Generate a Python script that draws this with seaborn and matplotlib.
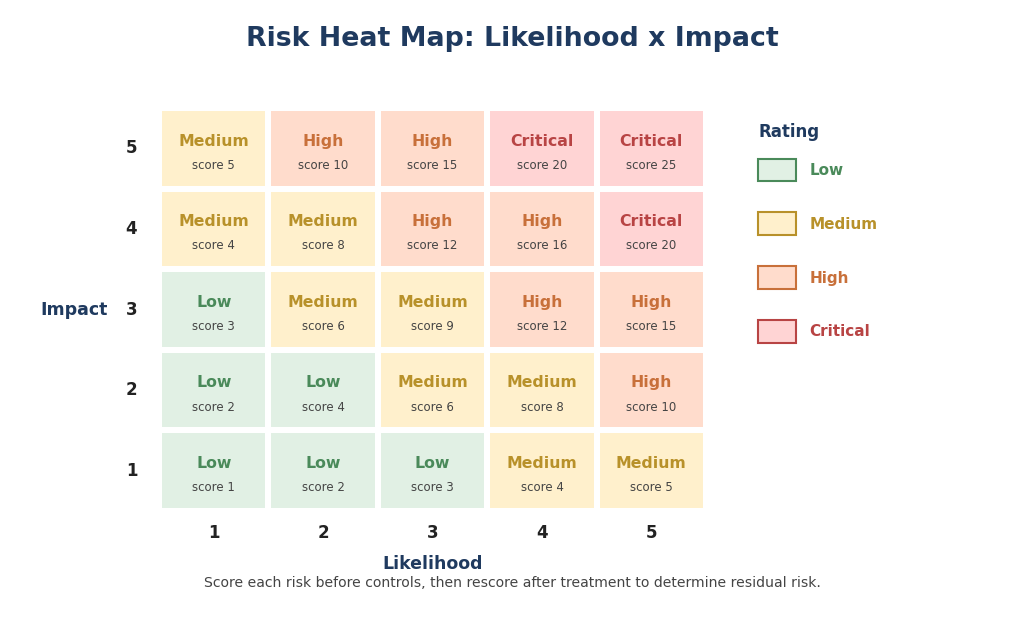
import matplotlib
matplotlib.use("Agg")
import matplotlib.pyplot as plt
from matplotlib.colors import ListedColormap
from matplotlib.patches import Patch
import pandas as pd
import seaborn as sns

# Data
likelihood = [1, 2, 3, 4, 5]
impact = [5, 4, 3, 2, 1]  # top row first
scores = [
    [5, 10, 15, 20, 25],
    [4, 8, 12, 16, 20],
    [3, 6, 9, 12, 15],
    [2, 4, 6, 8, 10],
    [1, 2, 3, 4, 5],
]
ratings = [
    ["Medium", "High", "High", "Critical", "Critical"],
    ["Medium", "Medium", "High", "High", "Critical"],
    ["Low", "Medium", "Medium", "High", "High"],
    ["Low", "Low", "Medium", "Medium", "High"],
    ["Low", "Low", "Low", "Medium", "Medium"],
]
levels = ["Low", "Medium", "High", "Critical"]
fill_colors = ["#e1f0e4", "#fff0cc", "#ffdccc", "#ffd4d4"]
text_colors = ["#4a8a5a", "#b8912a", "#c8703a", "#b84444"]

navy = "#1f3a5f"

sns.set_theme(style="white")
plt.rcParams['font.family'] = ['DejaVu Sans']

level_idx = pd.DataFrame([[levels.index(r) for r in row] for row in ratings],
                         index=impact, columns=likelihood)

fig = plt.figure(figsize=(10.24, 6.28), dpi=100)
ax = fig.add_axes([0.1553, 0.1863, 0.5342, 0.6417])

sns.heatmap(level_idx, cmap=ListedColormap(fill_colors), vmin=-0.5, vmax=3.5,
            cbar=False, linewidths=3, linecolor="white", ax=ax)

for r, row in enumerate(ratings):
    for c, rating in enumerate(row):
        k = levels.index(rating)
        ax.text(c + 0.5, r + 0.41, rating, ha="center", va="center",
                fontsize=11.3, fontweight="bold", color=text_colors[k])
        ax.text(c + 0.5, r + 0.71, f"score {scores[r][c]}", ha="center",
                va="center", fontsize=8.5, color="#444444")

ax.tick_params(axis="both", length=0)
ax.tick_params(axis="x", pad=9)
ax.tick_params(axis="y", pad=15.7)
ax.set_xticklabels(likelihood, fontsize=12, fontweight="bold", color="#222222")
ax.set_yticklabels(impact, fontsize=12, fontweight="bold", color="#222222",
                   rotation=0)
ax.set_xlabel("Likelihood", fontsize=12.5, fontweight="bold", color=navy,
              labelpad=10)
ax.set_ylabel("Impact", fontsize=12.5, fontweight="bold", color=navy,
              rotation=0, labelpad=37, va="center")

fig.suptitle("Risk Heat Map: Likelihood x Impact", fontsize=19.3,
             fontweight="bold", color=navy, y=0.958)
fig.text(0.5, 0.072, "Score each risk before controls, then rescore after "
         "treatment to determine residual risk.", ha="center", va="center",
         fontsize=10.1, color="#444444")

# legend: title drawn separately so the gap to the first swatch is tighter
fig.text(0.741, 0.790, "Rating", ha="left", va="center", fontsize=12,
         fontweight="bold", color=navy)
handles = [Patch(facecolor=fill_colors[i], edgecolor=text_colors[i],
                 linewidth=1.5, label=levels[i]) for i in range(len(levels))]
leg = fig.legend(handles=handles, loc="upper left",
                 bbox_to_anchor=(0.733, 0.7596), frameon=False, fontsize=11,
                 labelcolor=text_colors, handlelength=2.45, handleheight=1.92,
                 handletextpad=0.9, labelspacing=2.03, borderpad=0)
for t in leg.get_texts():
    t.set_fontweight("bold")

fig.savefig("out.png", dpi=100)
